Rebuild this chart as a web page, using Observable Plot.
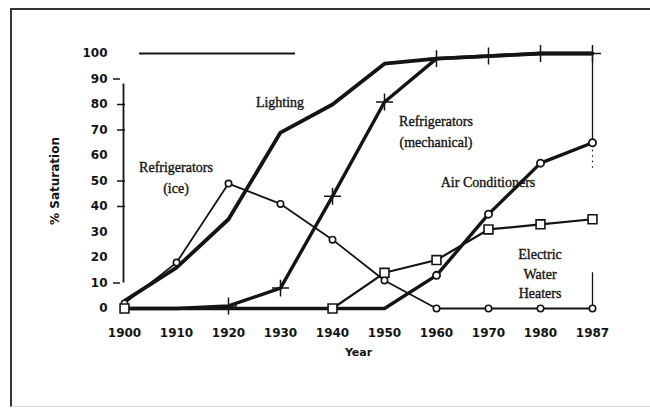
<!DOCTYPE html>
<html><head><meta charset="utf-8">
<script src="https://cdn.jsdelivr.net/npm/d3@7"></script>
<script src="https://cdn.jsdelivr.net/npm/@observablehq/plot@0.6"></script>
<style>
body{margin:0;background:#fff;}
#wrap{position:relative;width:650px;height:410px;overflow:hidden;}
#frame{position:absolute;left:10px;top:8px;width:660px;height:399px;border-left:2px solid #333;border-top:2px solid #333;border-bottom:1px solid #ddd;box-sizing:border-box;}
#chart{position:absolute;left:0;top:0;}
</style></head>
<body><div id="wrap"><div id="frame"></div><div id="chart"></div></div>
<script>
const years = ["1900","1910","1920","1930","1940","1950","1960","1970","1980","1987"];
const lighting = [3,16,35,69,80,96,98,99,100,100];
const refMech = [0,0,1,8,44,81,98,99,100,100];
const refIce = [2,18,49,41,27,11,0,0,0,0];
const airCond = [0,0,0,0,0,0,13,37,57,65];
const heaters = [0,0,0,0,0,14,19,31,33,35];
const heaterMarkerYears = ["1900","1940","1950","1960","1970","1980","1987"];
const mechMarkerYears = ["1920","1930","1940","1950","1960","1970","1980","1987"];
const yTicks = [0,10,20,30,40,50,60,70,80,90,100];
const topRule = [{v:100, from:"1900", to:"1930"}];

const rows = (vals) => years.map((y,i)=>({year:y, v:vals[i]}));
const L = rows(lighting), M = rows(refMech), I = rows(refIce), A = rows(airCond), H = rows(heaters);

const labels = [
  {x:"1930", v:80.4, dx:-4, t:"Lighting"},
  {x:"1910", v:55, dx:1, t:"Refrigerators"},
  {x:"1910", v:47, dx:2, t:"(ice)"},
  {x:"1960", v:73.3, dx:-13, t:"Refrigerators"},
  {x:"1960", v:65, dx:-14, t:"(mechanical)"},
  {x:"1970", v:49.4, dx:-8, t:"Air Conditioners"},
  {x:"1980", v:20.8, dx:7, t:"Electric"},
  {x:"1980", v:13, dx:7, t:"Water"},
  {x:"1980", v:5.5, dx:7, t:"Heaters"}
];

const ink = "#141414";
const chart = Plot.plot({
  width: 650, height: 410,
  marginLeft: 122, marginRight: 56, marginTop: 53, marginBottom: 102,
  style: {fontFamily: "'DejaVu Sans', sans-serif", background: "transparent", color: ink},
  x: {type: "point", domain: years, padding: 0},
  y: {domain: [0,100]},
  marks: [
    Plot.axisX({tickSize:0, tickPadding:20, label:null, fontSize:12, fontWeight:"bold"}),
    Plot.axisY({ticks: yTicks, tickSize:0, tickPadding:15, label:null, fontSize:12, fontWeight:"bold"}),
    Plot.text(["Year"], {frameAnchor:"bottom", dy:47, fontSize:11, fontWeight:"bold", fill:ink}),
    Plot.text(["% Saturation"], {frameAnchor:"left", textAnchor:"middle", dx:-67, rotate:-90, fontSize:12, fontWeight:"bold", fill:ink}),
    Plot.axisY({ticks:[10,90], tickSize:7, dx:-2, text:null, label:null, strokeWidth:1.5}),
    Plot.axisY({ticks:[40,50,70,80], tickSize:8, dx:3, text:null, label:null, strokeWidth:1.5}),
    Plot.ruleX(["1900"], {y1:10, y2:88, dx:-1, stroke:ink, strokeWidth:1.8}),
    Plot.ruleY(topRule, {y:"v", x1:"from", x2:"to", dx:15, stroke:ink, strokeWidth:2}),
    Plot.ruleX(["1987"], {y1:65, y2:100, stroke:ink, strokeWidth:1.3}),
    Plot.ruleX(["1987"], {y1:55, y2:65, stroke:ink, strokeWidth:1.2, strokeDasharray:"1.5,4"}),
    Plot.ruleX(["1987"], {y1:0, y2:14, stroke:ink, strokeWidth:1.3}),
    Plot.line(I, {x:"year", y:"v", stroke:ink, strokeWidth:1.8}),
    Plot.line(H, {x:"year", y:"v", stroke:ink, strokeWidth:2.2}),
    Plot.line(A, {x:"year", y:"v", stroke:ink, strokeWidth:3.4}),
    Plot.line(M, {x:"year", y:"v", stroke:ink, strokeWidth:3.4}),
    Plot.line(L, {x:"year", y:"v", stroke:ink, strokeWidth:3.8}),
    Plot.dot(I, {x:"year", y:"v", r:3.2, fill:"white", stroke:ink, strokeWidth:1.6}),
    Plot.dot(A.filter(d=>d.v>0), {x:"year", y:"v", r:3.6, fill:"white", stroke:ink, strokeWidth:1.8}),
    Plot.dot(H.filter(d=>heaterMarkerYears.includes(d.year)), {x:"year", y:"v", symbol:"square", r:5, fill:"white", stroke:ink, strokeWidth:1.6}),
    Plot.dot(M.filter(d=>mechMarkerYears.includes(d.year)), {x:"year", y:"v", symbol:"plus", r:5.5, stroke:ink, strokeWidth:1.5}),
    Plot.text(labels, {x:"x", y:"v", dx:"dx", text:"t", fontFamily:"'Liberation Serif', serif", fontSize:14, fill:ink, stroke:ink, strokeWidth:0.35})
  ]
});
document.getElementById("chart").appendChild(chart);
</script></body></html>
